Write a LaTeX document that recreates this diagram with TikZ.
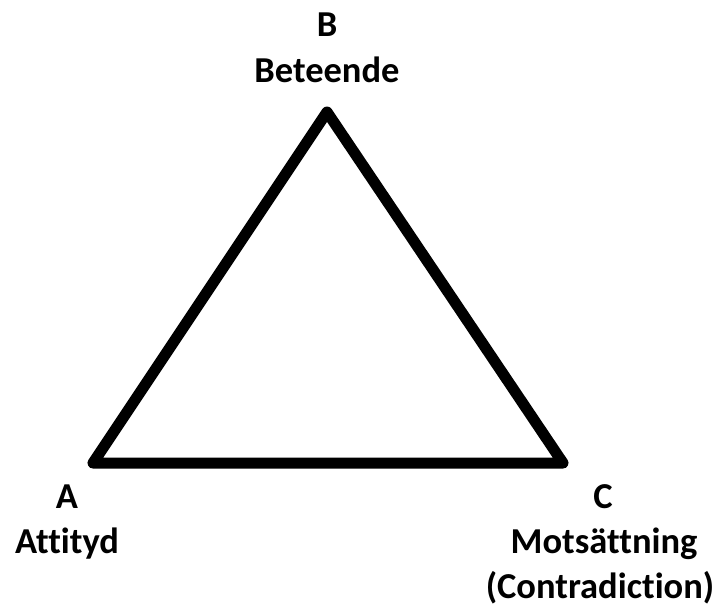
\documentclass[tikz,border=0pt]{standalone}
\usepackage{fontspec}
\setmainfont{Carlito}[Ligatures=NoCommon]
\usepackage{tikz}
\usetikzlibrary{positioning}
\tikzset{
  side/.style={line width=11pt, line join=round, line cap=round},
  lbl/.style={font=\bfseries\fontsize{36.5}{44}\selectfont, anchor=base, inner sep=0pt}
}

\begin{document}
\begin{tikzpicture}[x=1pt, y=-1pt]
  \useasboundingbox (0,0) rectangle (720,606);
  \coordinate (A) at (93,463);
  \coordinate (B) at (327,112);
  \coordinate (C) at (563,463);
  \draw[side] (A) -- (B) -- (C) -- cycle;
  \node[lbl] (bB) at (327,36) {B};
  \node[lbl] (bname) at (327,82) {Beteende};
  \node[lbl] (aA) at (67,508) {A};
  \node[lbl] (aname) at (67,553) {Attityd};
  \node[lbl] (cC) at (603,508) {C};
  \node[lbl] (cname) at (604,553) {Motsättning};
  \node[lbl] (cnote) at (600,598) {(Contradiction)};
\end{tikzpicture}
\end{document}
